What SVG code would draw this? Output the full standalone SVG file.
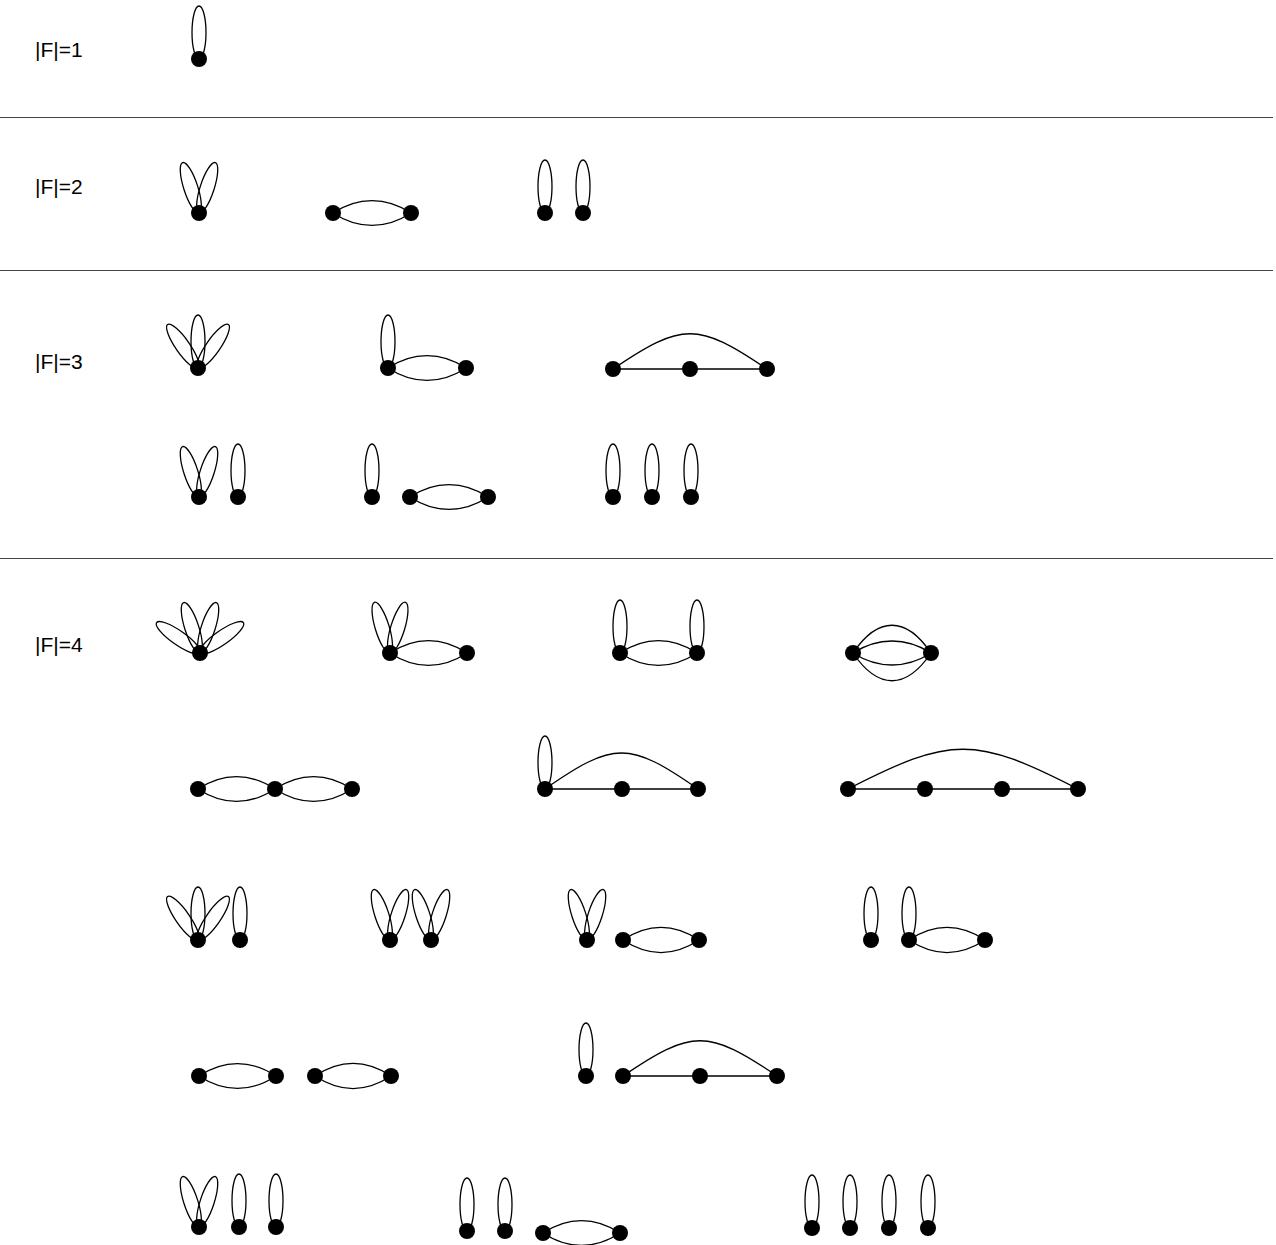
<svg xmlns="http://www.w3.org/2000/svg" xmlns:xlink="http://www.w3.org/1999/xlink" width="1276" height="1245" viewBox="0 0 1276 1245">
<style>
.e{fill:none;stroke:#000;stroke-width:1.3}
.v{fill:#000}
.sep{stroke:#444;stroke-width:1}
.lbl{font-family:"Liberation Sans",Arial,sans-serif;font-size:21px;fill:#000}
</style>
<defs>
<ellipse id="lp" class="e" cx="0" cy="-26.5" rx="7" ry="26.5"/>
<circle id="vx" class="v" cx="0" cy="0" r="8"/>
</defs>
<rect width="1276" height="1245" fill="#fff"/>
<g id="labels">
<text class="lbl" x="35" y="57">|F|=1</text>
<text class="lbl" x="35" y="194">|F|=2</text>
<text class="lbl" x="35" y="369">|F|=3</text>
<text class="lbl" x="35" y="652">|F|=4</text>
</g>
<g id="separators">
<line class="sep" x1="0" y1="117.5" x2="1273" y2="117.5"/>
<line class="sep" x1="0" y1="270.5" x2="1273" y2="270.5"/>
<line class="sep" x1="0" y1="558.5" x2="1273" y2="558.5"/>
</g>
<g id="connectors">
<!-- F1 -->
<use href="#lp" transform="translate(199,59)"/>
<!-- F2 -->
<use href="#lp" transform="translate(199,213) rotate(-18)"/>
<use href="#lp" transform="translate(199,213) rotate(18)"/>
<path class="e" d="M333 213C358 196.5 386 196.5 411 213M333 213C358 229.5 386 229.5 411 213"/>
<use href="#lp" transform="translate(545,213)"/>
<use href="#lp" transform="translate(583,213)"/>
<!-- F3 row1 -->
<use href="#lp" transform="translate(198,368) rotate(-35)"/>
<use href="#lp" transform="translate(198,368)"/>
<use href="#lp" transform="translate(198,368) rotate(35)"/>
<use href="#lp" transform="translate(388,368)"/>
<path class="e" d="M388 368C413 351.5 441 351.5 466 368M388 368C413 384.5 441 384.5 466 368"/>
<path class="e" d="M613 369H767M613 369C682 322 698 322 767 369"/>
<!-- F3 row2 -->
<use href="#lp" transform="translate(199,497) rotate(-18)"/>
<use href="#lp" transform="translate(199,497) rotate(18)"/>
<use href="#lp" transform="translate(238,497)"/>
<use href="#lp" transform="translate(372,497)"/>
<path class="e" d="M410 497C435 480.5 463 480.5 488 497M410 497C435 513.5 463 513.5 488 497"/>
<use href="#lp" transform="translate(613,497)"/>
<use href="#lp" transform="translate(652,497)"/>
<use href="#lp" transform="translate(691,497)"/>
<!-- F4 row1 -->
<use href="#lp" transform="translate(200,653) rotate(-55)"/>
<use href="#lp" transform="translate(200,653) rotate(-18)"/>
<use href="#lp" transform="translate(200,653) rotate(18)"/>
<use href="#lp" transform="translate(200,653) rotate(55)"/>
<use href="#lp" transform="translate(390,653) rotate(-17)"/>
<use href="#lp" transform="translate(390,653) rotate(17)"/>
<path class="e" d="M390 653C415 636.5 442 636.5 467 653M390 653C415 669.5 442 669.5 467 653"/>
<use href="#lp" transform="translate(620,653)"/>
<use href="#lp" transform="translate(697,653)"/>
<path class="e" d="M620 653C645 636.5 672 636.5 697 653M620 653C645 669.5 672 669.5 697 653"/>
<path class="e" d="M853 653C878 637 906 637 931 653M853 653C878 669 906 669 931 653M853 653C878 616 906 616 931 653M853 653C878 690 906 690 931 653"/>
<!-- F4 row2 -->
<path class="e" d="M198 789C223 772.5 250 772.5 275 789M198 789C223 805.5 250 805.5 275 789M275 789C300 772.5 327 772.5 352 789M275 789C300 805.5 327 805.5 352 789"/>
<use href="#lp" transform="translate(545,789)"/>
<path class="e" d="M545 789H698M545 789C614 741 629 741 698 789"/>
<path class="e" d="M848 789H1078M848 789C951 736 975 736 1078 789"/>
<!-- F4 row3 -->
<use href="#lp" transform="translate(198,940) rotate(-35)"/>
<use href="#lp" transform="translate(198,940)"/>
<use href="#lp" transform="translate(198,940) rotate(35)"/>
<use href="#lp" transform="translate(240,940)"/>
<use href="#lp" transform="translate(390,940) rotate(-18)"/>
<use href="#lp" transform="translate(390,940) rotate(18)"/>
<use href="#lp" transform="translate(431,940) rotate(-18)"/>
<use href="#lp" transform="translate(431,940) rotate(18)"/>
<use href="#lp" transform="translate(587,940) rotate(-18)"/>
<use href="#lp" transform="translate(587,940) rotate(18)"/>
<path class="e" d="M623 940C648 923.5 674 923.5 699 940M623 940C648 956.5 674 956.5 699 940"/>
<use href="#lp" transform="translate(871,940)"/>
<use href="#lp" transform="translate(909,940)"/>
<path class="e" d="M909 940C934 923.5 960 923.5 985 940M909 940C934 956.5 960 956.5 985 940"/>
<!-- F4 row4 -->
<path class="e" d="M199 1076C224 1059.5 251 1059.5 276 1076M199 1076C224 1092.5 251 1092.5 276 1076M315 1076C340 1059.5 366 1059.5 391 1076M315 1076C340 1092.5 366 1092.5 391 1076"/>
<use href="#lp" transform="translate(586,1076)"/>
<path class="e" d="M623 1076H777M623 1076C692 1029 708 1029 777 1076"/>
<!-- F4 row5 -->
<use href="#lp" transform="translate(199,1227) rotate(-18)"/>
<use href="#lp" transform="translate(199,1227) rotate(18)"/>
<use href="#lp" transform="translate(239,1227)"/>
<use href="#lp" transform="translate(276,1227)"/>
<use href="#lp" transform="translate(467,1231)"/>
<use href="#lp" transform="translate(505,1231)"/>
<path class="e" d="M543 1233C568 1216.5 595 1216.5 620 1233M543 1233C568 1249.5 595 1249.5 620 1233"/>
<use href="#lp" transform="translate(812,1228)"/>
<use href="#lp" transform="translate(850,1228)"/>
<use href="#lp" transform="translate(889,1228)"/>
<use href="#lp" transform="translate(928,1228)"/>
</g>
<g id="n-f1"><use href="#vx" x="199" y="59"/></g>
<g id="n-f2"><use href="#vx" x="199" y="213"/><use href="#vx" x="333" y="213"/><use href="#vx" x="411" y="213"/><use href="#vx" x="545" y="213"/><use href="#vx" x="583" y="213"/></g>
<g id="n-f3a"><use href="#vx" x="198" y="368"/><use href="#vx" x="388" y="368"/><use href="#vx" x="466" y="368"/><use href="#vx" x="613" y="369"/><use href="#vx" x="690" y="369"/><use href="#vx" x="767" y="369"/></g>
<g id="n-f3b"><use href="#vx" x="199" y="497"/><use href="#vx" x="238" y="497"/><use href="#vx" x="372" y="497"/><use href="#vx" x="410" y="497"/><use href="#vx" x="488" y="497"/><use href="#vx" x="613" y="497"/><use href="#vx" x="652" y="497"/><use href="#vx" x="691" y="497"/></g>
<g id="n-f4a"><use href="#vx" x="200" y="653"/><use href="#vx" x="390" y="653"/><use href="#vx" x="467" y="653"/><use href="#vx" x="620" y="653"/><use href="#vx" x="697" y="653"/><use href="#vx" x="853" y="653"/><use href="#vx" x="931" y="653"/></g>
<g id="n-f4b"><use href="#vx" x="198" y="789"/><use href="#vx" x="275" y="789"/><use href="#vx" x="352" y="789"/><use href="#vx" x="545" y="789"/><use href="#vx" x="622" y="789"/><use href="#vx" x="698" y="789"/><use href="#vx" x="848" y="789"/><use href="#vx" x="925" y="789"/><use href="#vx" x="1002" y="789"/><use href="#vx" x="1078" y="789"/></g>
<g id="n-f4c"><use href="#vx" x="198" y="940"/><use href="#vx" x="240" y="940"/><use href="#vx" x="390" y="940"/><use href="#vx" x="431" y="940"/><use href="#vx" x="587" y="940"/><use href="#vx" x="623" y="940"/><use href="#vx" x="699" y="940"/><use href="#vx" x="871" y="940"/><use href="#vx" x="909" y="940"/><use href="#vx" x="985" y="940"/></g>
<g id="n-f4d"><use href="#vx" x="199" y="1076"/><use href="#vx" x="276" y="1076"/><use href="#vx" x="315" y="1076"/><use href="#vx" x="391" y="1076"/><use href="#vx" x="586" y="1076"/><use href="#vx" x="623" y="1076"/><use href="#vx" x="700" y="1076"/><use href="#vx" x="777" y="1076"/></g>
<g id="n-f4e"><use href="#vx" x="199" y="1227"/><use href="#vx" x="239" y="1227"/><use href="#vx" x="276" y="1227"/><use href="#vx" x="467" y="1231"/><use href="#vx" x="505" y="1231"/><use href="#vx" x="543" y="1233"/><use href="#vx" x="620" y="1233"/><use href="#vx" x="812" y="1228"/><use href="#vx" x="850" y="1228"/><use href="#vx" x="889" y="1228"/><use href="#vx" x="928" y="1228"/></g>
</svg>
